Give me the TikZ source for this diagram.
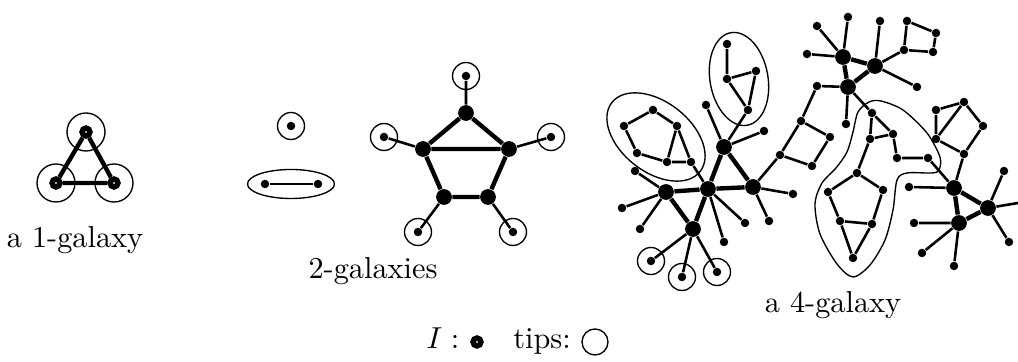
\documentclass[tikz,border=0pt]{standalone}
\begin{document}
\begin{tikzpicture}[x=0.33pt,y=-0.33pt,
  leafdot/.style={circle,fill=black,inner sep=0pt,minimum size=2.8pt},
  hubdot/.style={circle,fill=black,inner sep=0pt,minimum size=5.2pt},
  inode/.style={circle,draw=black,fill=white,inner sep=0pt,minimum size=2.6pt,line width=1.8pt},
  hubedge/.style={line width=1.45pt},
  leafedge/.style={line width=0.85pt},
  tipring/.style={line width=0.45pt}
]
\useasboundingbox (0,0) rectangle (1018,362);

% 1-galaxy
\node[inode] (x1) at (86,132) {};
\node[inode] (x2) at (56,183) {};
\node[inode] (x3) at (114,183) {};
\draw[hubedge] (x1) -- (x2) (x2) -- (x3) (x3) -- (x1);
\draw[tipring] (x1.center) circle[radius=19] (x2.center) circle[radius=19] (x3.center) circle[radius=19];
\node (lab1) at (75,240) {a 1-galaxy};

% 2-galaxies
\node[leafdot] (o1) at (291,126) {};
\draw[tipring] (o1.center) circle[radius=13.5];
\node[leafdot] (o2) at (265,184) {};
\node[leafdot] (o3) at (318,184) {};
\draw[leafedge] (o2) -- (o3);
\draw[tipring] (291,184) ellipse[x radius=43.5,y radius=14.5];

\node[hubdot] (u1) at (466,113) {};
\node[hubdot] (u2) at (423,149) {};
\node[hubdot] (u3) at (509,149) {};
\node[hubdot] (u4) at (444,197) {};
\node[hubdot] (u5) at (488,197) {};
\node[leafdot] (v1) at (466,76) {};
\node[leafdot] (v2) at (384,137) {};
\node[leafdot] (v3) at (551,137) {};
\node[leafdot] (v4) at (418,232) {};
\node[leafdot] (v5) at (513,232) {};
\draw[hubedge] (u1) -- (u2) (u1) -- (u3) (u2) -- (u3) (u2) -- (u4) (u3) -- (u5) (u4) -- (u5);
\draw[leafedge] (u1) -- (v1) (u2) -- (v2) (u3) -- (v3) (u4) -- (v4) (u5) -- (v5);
\draw[tipring] (v1.center) circle[radius=13.5] (v2.center) circle[radius=13.5] (v3.center) circle[radius=13.5]
  (v4.center) circle[radius=13.5] (v5.center) circle[radius=13.5];
\node (lab2) at (373,271) {2-galaxies};

% 4-galaxy: hubs
\node[hubdot] (a1) at (724,147) {};
\node[hubdot] (b1) at (708,189) {};
\node[hubdot] (c1) at (753,187) {};
\node[hubdot] (d1) at (666,192) {};
\node[hubdot] (e1) at (693,229) {};
\node[hubdot] (f1) at (843,57) {};
\node[hubdot] (g1) at (875,66) {};
\node[hubdot] (h1) at (848,87) {};
\node[hubdot] (i1) at (954,188) {};
\node[hubdot] (j1) at (988,208) {};
\node[hubdot] (k1) at (959,223) {};
\draw[hubedge] (a1) -- (b1) (a1) -- (c1) (b1) -- (c1) (d1) -- (b1) (d1) -- (e1) (b1) -- (e1);
\draw[hubedge] (f1) -- (g1) (f1) -- (h1) (g1) -- (h1) (i1) -- (j1) (i1) -- (k1) (j1) -- (k1);

% left loop
\node[leafdot] (l1) at (624,126) {};
\node[leafdot] (l2) at (653,110) {};
\node[leafdot] (l3) at (677,126) {};
\node[leafdot] (l4) at (637,153) {};
\node[leafdot] (l5) at (667,162) {};
\node[leafdot] (l6) at (691,162) {};
\draw[leafedge] (l1) -- (l2) (l2) -- (l3) (l1) -- (l4) (l4) -- (l5) (l5) -- (l3) (l3) -- (l6) (l5) -- (l6) (l6) -- (b1);
\draw[tipring,rotate around={-38:(656,137)}] (656,137) ellipse[x radius=56,y radius=35];

% top loop
\node[leafdot] (m1) at (727,44) {};
\node[leafdot] (m2) at (727,79) {};
\node[leafdot] (m3) at (756,71) {};
\node[leafdot] (m4) at (748,110) {};
\draw[leafedge] (m1) -- (m2) (m2) -- (m3) (m3) -- (m4) (m2) -- (m4) (m4) -- (a1);
\draw[tipring,rotate around={-80:(739,79)}] (739,79) ellipse[x radius=47,y radius=29];

% leaves and tips of the left hubs
\node[leafdot] (p1) at (706,105) {};
\node[leafdot] (p2) at (764,131) {};
\node[leafdot] (p3) at (635,171) {};
\node[leafdot] (p4) at (622,208) {};
\node[leafdot] (p5) at (640,229) {};
\node[leafdot] (p6) at (745,223) {};
\node[leafdot] (p7) at (724,242) {};
\node[leafdot] (p8) at (793,194) {};
\node[leafdot] (p9) at (769,221) {};
\node[leafdot] (t1) at (651,261) {};
\node[leafdot] (t2) at (682,277) {};
\node[leafdot] (t3) at (717,272) {};
\draw[leafedge] (a1) -- (p1) (a1) -- (p2) (d1) -- (p3) (d1) -- (p4) (d1) -- (p5) (b1) -- (p6) (b1) -- (p7)
  (c1) -- (p8) (c1) -- (p9) (e1) -- (t1) (e1) -- (t2) (e1) -- (t3);
\draw[tipring] (t1.center) circle[radius=13.5] (t2.center) circle[radius=13.5] (t3.center) circle[radius=13.5];

% square chain
\node[leafdot] (s1) at (780,155) {};
\node[leafdot] (s2) at (801,121) {};
\node[leafdot] (s3) at (830,137) {};
\node[leafdot] (s4) at (812,166) {};
\node[leafdot] (s5) at (817,86) {};
\draw[leafedge] (c1) -- (s1) (s1) -- (s2) (s2) -- (s3) (s3) -- (s4) (s4) -- (s1) (s2) -- (s5) (s5) -- (h1);

% top right hubs
\node[leafdot] (q1) at (817,26) {};
\node[leafdot] (q2) at (848,17) {};
\node[leafdot] (q3) at (807,54) {};
\node[leafdot] (q4) at (880,21) {};
\node[leafdot] (q5) at (917,87) {};
\node[leafdot] (q6) at (846,124) {};
\node[leafdot] (r1) at (907,21) {};
\node[leafdot] (r2) at (936,33) {};
\node[leafdot] (r3) at (933,52) {};
\node[leafdot] (r4) at (904,50) {};
\draw[leafedge] (f1) -- (q1) (f1) -- (q2) (f1) -- (q3) (g1) -- (q4) (g1) -- (q5) (h1) -- (q6);
\draw[leafedge] (g1) -- (r4) (r4) -- (r1) (r1) -- (r2) (r2) -- (r3) (r3) -- (r4);

% right loop
\node[leafdot] (n1) at (872,113) {};
\node[leafdot] (n2) at (893,134) {};
\node[leafdot] (n3) at (870,139) {};
\node[leafdot] (n4) at (897,158) {};
\node[leafdot] (n5) at (928,158) {};
\node[leafdot] (n6) at (857,173) {};
\node[leafdot] (n7) at (828,192) {};
\node[leafdot] (n8) at (883,190) {};
\node[leafdot] (n9) at (840,221) {};
\node[leafdot] (n10) at (872,224) {};
\node[leafdot] (n11) at (853,258) {};
\draw[leafedge] (h1) -- (n1) (n1) -- (n2) (n1) -- (n3) (n3) -- (n2) (n2) -- (n4) (n4) -- (n5) (n5) -- (i1);
\draw[leafedge] (n3) -- (n6) (n6) -- (n7) (n6) -- (n8) (n7) -- (n9) (n8) -- (n10) (n9) -- (n10) (n9) -- (n11) (n10) -- (n11);
\draw[tipring] plot[smooth cycle] coordinates {(853,277) (837,264) (820,234) (815,204) (822,183) (836,168) (847,152)
  (853,132) (858,112) (869,102) (881,101) (903,110) (927,133) (940,157) (939,170) (932,173) (907,173) (897,180)
  (893,210) (885,240) (870,265)};

% right pentagon and bottom right hubs
\node[leafdot] (w1) at (936,110) {};
\node[leafdot] (w2) at (964,102) {};
\node[leafdot] (w3) at (983,126) {};
\node[leafdot] (w4) at (964,154) {};
\node[leafdot] (w5) at (936,139) {};
\draw[leafedge] (w1) -- (w2) (w2) -- (w3) (w3) -- (w4) (w4) -- (w5) (w5) -- (w1) (w5) -- (w2) (w4) -- (i1);
\node[leafdot] (q7) at (909,187) {};
\node[leafdot] (q8) at (1004,171) {};
\node[leafdot] (q9) at (1009,242) {};
\coordinate (q10) at (1018,203);
\node[leafdot] (q11) at (914,223) {};
\node[leafdot] (q12) at (922,253) {};
\node[leafdot] (q13) at (954,266) {};
\draw[leafedge] (i1) -- (q7) (j1) -- (q8) (j1) -- (q9) (j1) -- (q10) (k1) -- (q11) (k1) -- (q12) (k1) -- (q13);
\node (lab4) at (833,305) {a 4-galaxy};

% legend
\node[anchor=base] (legi) at (443,349) {$I:$};
\node[inode] (legsym) at (477,342) {};
\node[anchor=base] (legtips) at (542,349) {tips:};
\coordinate (legring) at (595,342);
\draw[tipring] (legring) circle[radius=13];
\end{tikzpicture}
\end{document}
